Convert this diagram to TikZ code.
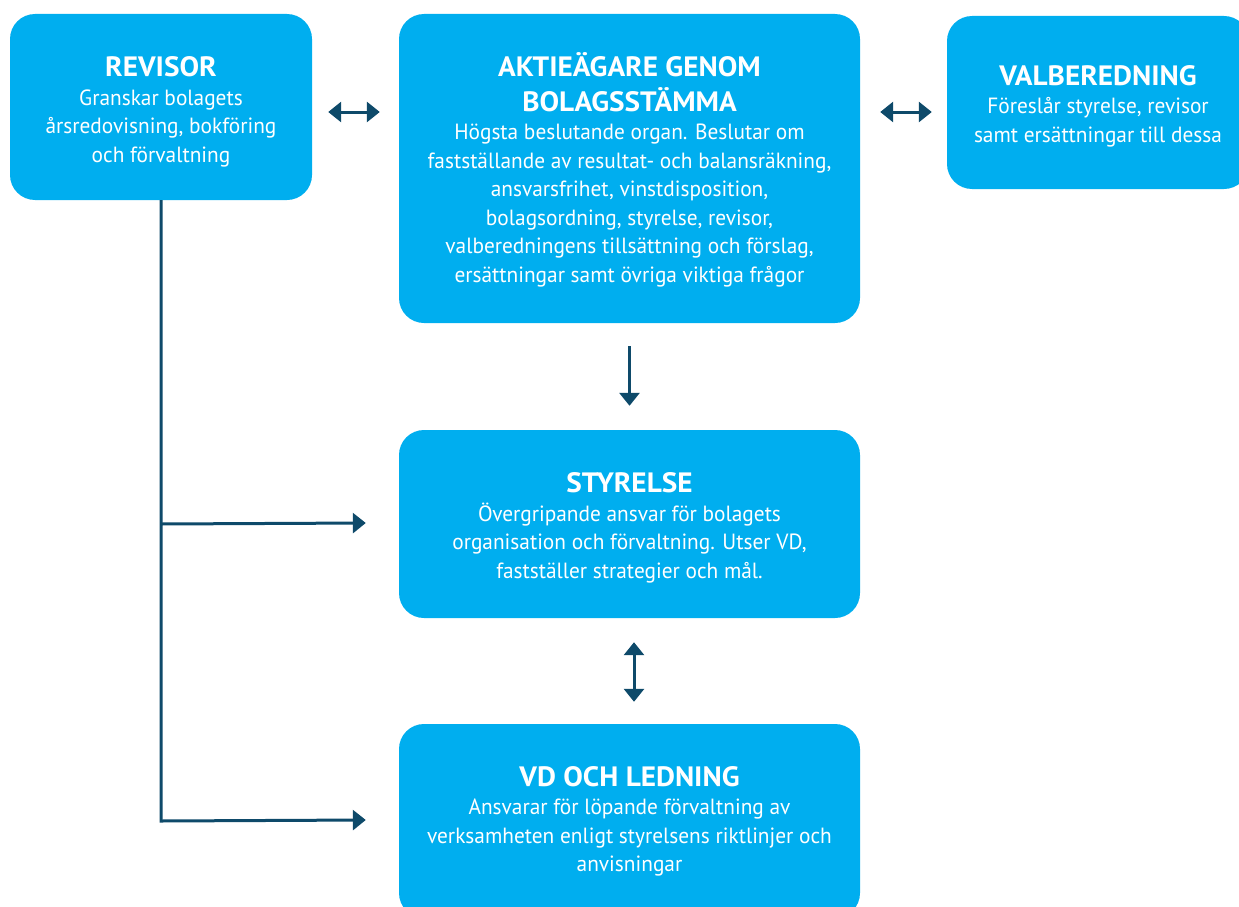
\documentclass[tikz,border=0pt]{standalone}
\usepackage{fontspec}
\setmainfont[FakeStretch=0.97]{PT Sans}
\newfontfamily\titlefam[FakeStretch=1.045]{PT Sans Bold}
\usetikzlibrary{arrows.meta,calc}
\definecolor{boxcyan}{HTML}{00AEEF}
\definecolor{navy}{HTML}{0E4A6A}
\newcommand{\tfont}{\fontsize{28}{34}\selectfont\titlefam}
\newcommand{\bfont}{\fontsize{22}{28.5}\selectfont}
\tikzset{
  orgbox/.style={fill=boxcyan, draw=none, rounded corners=25pt, inner sep=0pt},
  orgtext/.style={text=white, align=center, inner sep=0pt, font=\bfont},
  conn/.style={draw=navy, line width=3pt},
  tip/.style={-{Triangle[length=13pt,width=20pt]}},
  dtip/.style={{Triangle[length=13pt,width=20pt]}-{Triangle[length=13pt,width=20pt]}},
}
\begin{document}
\begin{tikzpicture}[x=1pt,y=-1pt]
\useasboundingbox (0,0) rectangle (1239,907);
% boxes
\node[orgbox, minimum width=302pt, minimum height=186pt] (revisor) at (161,107) {};
\node[orgbox, minimum width=461pt, minimum height=309pt] (aktie) at (629.5,168.5) {};
\node[orgbox, minimum width=302pt, minimum height=173pt] (valb) at (1098,102.5) {};
\node[orgbox, minimum width=461pt, minimum height=188pt] (styr) at (629.5,524) {};
\node[orgbox, minimum width=461pt, minimum height=194pt] (vd) at (629.5,821) {};
% texts
\node[orgtext] (revisorT) at ($(revisor.center)+(0,5)$)
  {{\tfont REVISOR}\\Granskar bolagets\\årsredovisning, bokföring\\och förvaltning};
\node[orgtext] (aktieT) at ($(aktie.center)+(0,1.5)$)
  {{\tfont AKTIEÄGARE GENOM}\\[6pt]{\tfont BOLAGSSTÄMMA}\\Högsta beslutande organ. Beslutar om\\fastställande av resultat- och balansräkning,\\ansvarsfrihet, vinstdisposition,\\bolagsordning, styrelse, revisor,\\valberedningens tillsättning och förslag,\\ersättningar samt övriga viktiga frågor};
\node[orgtext] (valbT) at ($(valb.center)+(0,3.5)$)
  {{\tfont VALBEREDNING}\\Föreslår styrelse, revisor\\samt ersättningar till dessa};
\node[orgtext] (styrT) at ($(styr.center)+(0,4)$)
  {{\tfont STYRELSE}\\Övergripande ansvar för bolagets\\organisation och förvaltning. Utser VD,\\fastställer strategier och mål.};
\node[orgtext] (vdT) at ($(vd.center)+(0,0.5)$)
  {{\tfont VD OCH LEDNING}\\Ansvarar för löpande förvaltning av\\verksamheten enligt styrelsens riktlinjer och\\anvisningar};
% connectors
\draw[conn, dtip] ($(revisor.east)+(16,5)$) -- ($(aktie.west|-revisor.east)+(-19,5)$);
\draw[conn, dtip] ($(aktie.east|-revisor.east)+(20,5)$) -- ($(valb.west|-revisor.east)+(-15,5)$);
\draw[conn, tip] ($(aktie.south)+(0,23)$) -- ($(styr.north)+(0,-24)$);
\draw[conn, dtip] ($(styr.south)+(4.5,24)$) -- ($(vd.north)+(4.5,-22)$);
\draw[conn, tip] (revisor.south) -- (revisor.south|-vd.center) -- ($(vd.west)+(-33,-1)$);
\draw[conn, tip] (revisor.south|-styr.center) -- ($(styr.west)+(-33,-1)$);
\end{tikzpicture}
\end{document}
